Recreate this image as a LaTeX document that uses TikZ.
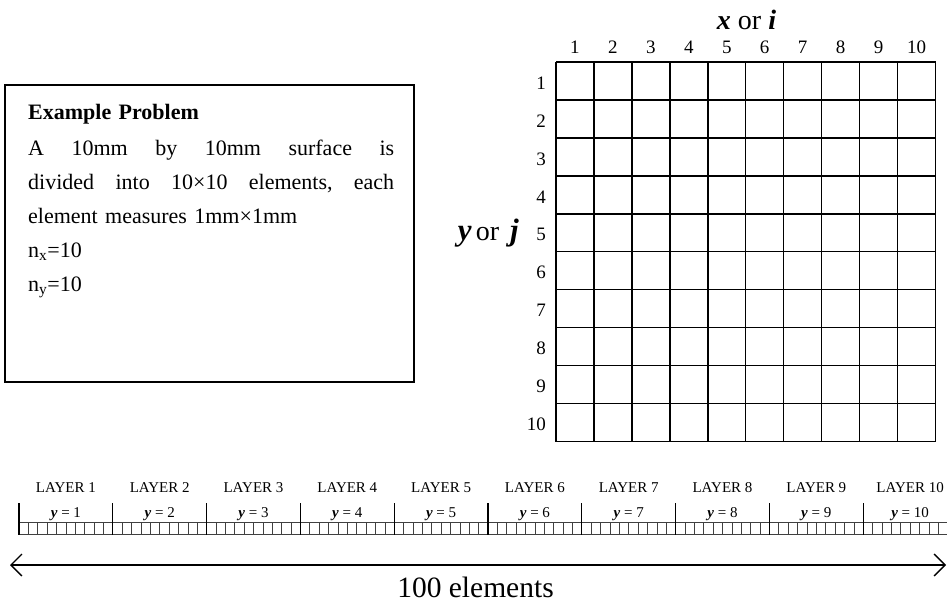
\documentclass[tikz,border=0pt]{standalone}
\usepackage{fontspec}
\setmainfont{Liberation Serif}
\usetikzlibrary{arrows.meta}
\tikzset{
  gridline/.style={line width=1.4pt, black},
  boxline/.style={line width=1.4pt, black},
  cellline/.style={line width=0.6pt, black!75},
  sepline/.style={line width=1.2pt, black},
  numlbl/.style={inner sep=0pt, font=\fontsize{19}{19}\selectfont},
  axislbl/.style={inner sep=0pt, font=\fontsize{28}{28}\selectfont},
  layerlbl/.style={inner sep=0pt, anchor=base, font=\fontsize{15}{15}\selectfont},
  dimarrow/.style={line width=1.3pt, {Straight Barb[length=11pt,width=22pt,line width=1.3pt]}-{Straight Barb[length=11pt,width=22pt,line width=1.3pt]}}
}
\begin{document}
\begin{tikzpicture}[x=1pt,y=-1pt]
\clip (0,0) rectangle (947,603);
\fill[white] (0,0) rectangle (947,603);

% Text box
\draw[boxline] (5,85) rectangle (414,382);
\node[anchor=north west, inner sep=0pt, text width=367pt, align=left,
      font=\fontsize{22}{34}\selectfont] (txt) at (28,104)
  {\textbf{Example Problem}\\[2pt]
   \leavevmode\makebox[366pt][l]{A\hfill 10mm\hfill by\hfill 10mm\hfill surface\hfill is}\\
   \leavevmode\makebox[366pt][l]{divided\hfill into\hfill 10×10\hfill elements,\hfill each}\\
   element measures 1mm×1mm\\
   n\textsubscript{x}=10\\
   n\textsubscript{y}=10};

% Grid
\foreach \k in {0,...,10}{
  \draw[gridline] ({556+37.95*\k},62) -- ({556+37.95*\k},441.5);
  \draw[gridline] (556,{62+37.95*\k}) -- (935.5,{62+37.95*\k});
}
\foreach \k in {1,...,10}{
  \node[numlbl] (c\k) at ({556+37.95*(\k-0.5)},47) {\k};
  \node[numlbl, anchor=east] (r\k) at (546,{62+37.95*(\k-0.5)+2}) {\k};
}
\node[axislbl] (xi) at (746.5,20) {\textbf{\textit{x}} or \textbf{\textit{i}}};
\node[axislbl, anchor=east] (yj) at (519,233)
  {{\fontsize{31}{31}\selectfont\textbf{\textit{y}}}\hspace{4pt}or\hspace{11pt}{\fontsize{31}{31}\selectfont\textbf{\textit{j}}}};

% Layer strip
\draw[cellline] (19,522) -- (960,522);
\draw[cellline] (19,534) -- (960,534);
\foreach \k in {0,...,9}{
  \pgfmathsetmacro{\xo}{19+93.8*\k}
  \foreach \j in {1,...,9}{
    \draw[cellline] ({\xo+9.38*\j},522) -- ({\xo+9.38*\j},534);
  }
  \draw[sepline] (\xo,503) -- (\xo,534.5);
  \pgfmathtruncatemacro{\n}{\k+1}
  \node[layerlbl] (L\n) at ({\xo+46.9},492.5) {LAYER \n};
  \node[layerlbl] (Y\n) at ({\xo+46.9},517) {\textbf{\textit{y}} = \n};
}
\draw[sepline] (957,503) -- (957,534.5);

% Dimension arrow
\coordinate (al) at (10,565);
\coordinate (ar) at (946,565);
\draw[dimarrow] (al) -- (ar);
\node[inner sep=0pt, anchor=base, font=\fontsize{29.5}{29.5}\selectfont] (hund) at (475.5,597) {100 elements};
\end{tikzpicture}
\end{document}
